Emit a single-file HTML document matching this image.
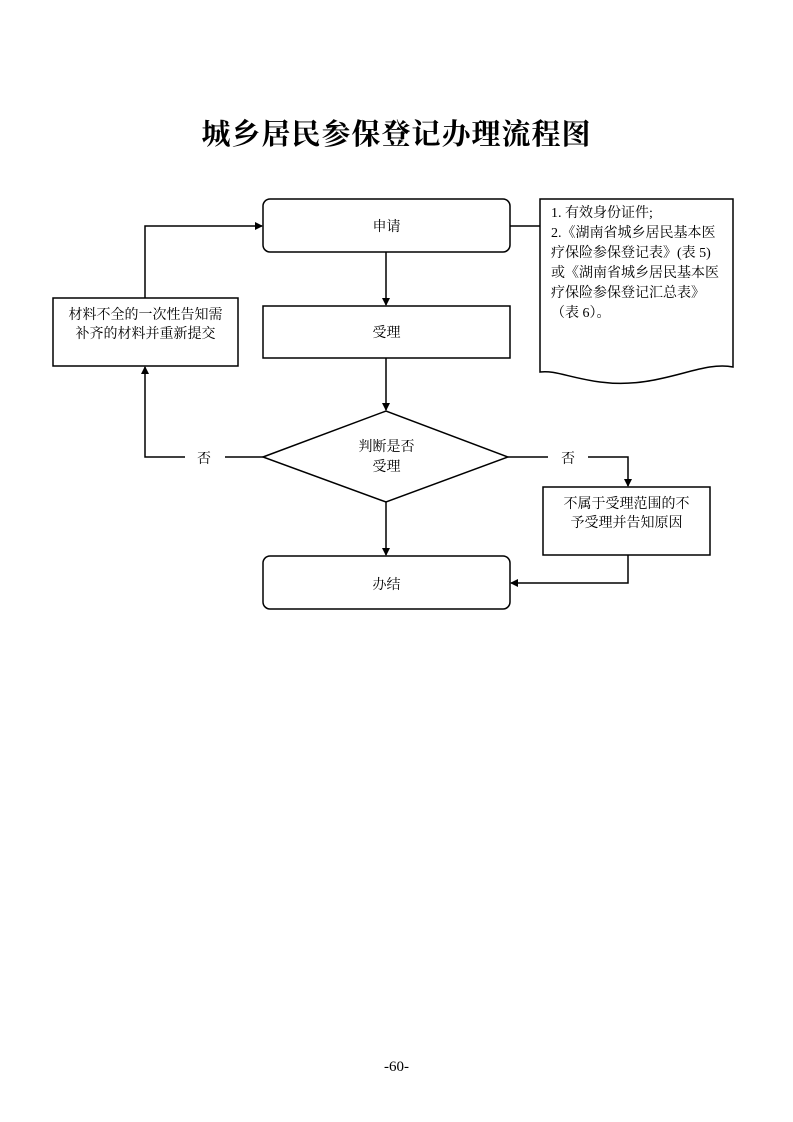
<!DOCTYPE html>
<html><head><meta charset="utf-8"><style>
html,body{margin:0;padding:0;background:#fff;}
body{width:793px;height:1122px;position:relative;overflow:hidden;font-family:"Liberation Serif","Noto Serif CJK SC",serif;}
.t{position:absolute;white-space:nowrap;color:#000;}
</style></head><body>
<div class="t" style="left:0;width:793px;text-align:center;top:112px;font-size:29px;font-weight:bold;letter-spacing:1px;">城乡居民参保登记办理流程图</div>
<svg width="793" height="1122" style="position:absolute;left:0;top:0" xmlns="http://www.w3.org/2000/svg">
<defs><marker id="a" markerWidth="8" markerHeight="8" refX="7" refY="4" orient="auto" markerUnits="userSpaceOnUse"><path d="M0,0 L8,4 L0,8 z" fill="#000"/></marker></defs>
<g fill="none" stroke="#000" stroke-width="1.5">
<rect x="263" y="199" width="247" height="53" rx="7"/>
<rect x="263" y="306" width="247" height="52"/>
<polygon points="263,457 386,411 508,457 386,502"/>
<rect x="263" y="556" width="247" height="53" rx="7"/>
<rect x="53" y="298" width="185" height="68"/>
<rect x="543" y="487" width="167" height="68"/>
<path d="M540,199 L733,199 L733,367 C700,360 660,390 600,382 C570,378 555,370 540,372 Z"/>
<line x1="510" y1="226" x2="540" y2="226"/>
<line x1="386" y1="252" x2="386" y2="305" marker-end="url(#a)"/>
<line x1="386" y1="358" x2="386" y2="410" marker-end="url(#a)"/>
<line x1="386" y1="502" x2="386" y2="555" marker-end="url(#a)"/>
<polyline points="145,298 145,226 262,226" marker-end="url(#a)"/>
<polyline points="263,457 225,457"/>
<polyline points="185,457 145,457 145,367" marker-end="url(#a)"/>
<polyline points="508,457 548,457"/>
<polyline points="588,457 628,457 628,486" marker-end="url(#a)"/>
<polyline points="628,555 628,583 511,583" marker-end="url(#a)"/>
</g></svg>
<div class="t" style="left:263px;width:247px;text-align:center;top:216px;font-size:14px;">申请</div>
<div class="t" style="left:263px;width:247px;text-align:center;top:322px;font-size:14px;">受理</div>
<div class="t" style="left:263px;width:247px;text-align:center;top:438px;font-size:14px;line-height:20px;">判断是否<br>受理</div>
<div class="t" style="left:263px;width:247px;text-align:center;top:574px;font-size:14px;">办结</div>
<div class="t" style="left:53px;width:185px;text-align:center;top:306px;font-size:14px;line-height:19px;">材料不全的一次性告知需<br>补齐的材料并重新提交</div>
<div class="t" style="left:543px;width:167px;text-align:center;top:495px;font-size:14px;line-height:19px;">不属于受理范围的不<br>予受理并告知原因</div>
<div class="t" style="left:197px;top:448px;font-size:14px;">否</div>
<div class="t" style="left:561px;top:448px;font-size:14px;">否</div>
<div class="t" style="left:551px;top:204px;font-size:14px;line-height:20px;">1. 有效身份证件;<br>2.《湖南省城乡居民基本医<br>疗保险参保登记表》(表 5)<br>或《湖南省城乡居民基本医<br>疗保险参保登记汇总表》<br>（表 6）。</div>
<div class="t" style="left:0;width:793px;text-align:center;top:1059px;font-size:15px;">-60-</div>
</body></html>
